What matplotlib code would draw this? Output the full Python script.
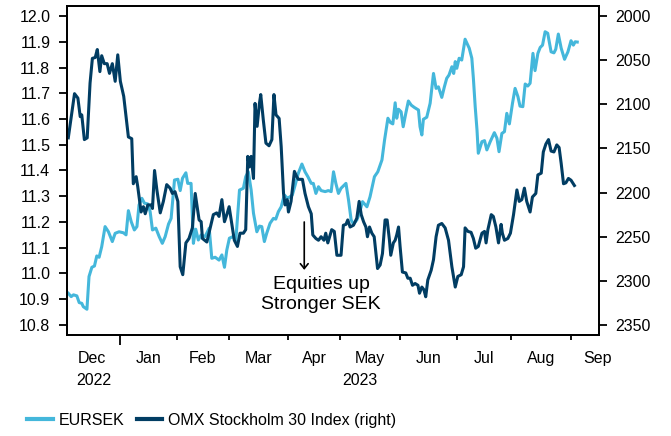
import numpy as np
import matplotlib
matplotlib.use('Agg')
import matplotlib.pyplot as plt
from matplotlib.lines import Line2D

plt.rcParams['font.family'] = ['Liberation Sans', 'DejaVu Sans']

# x values: trading days counted from 1 Dec 2022
eursek_day = [2.0, 3.1, 4.0, 5.3, 6.2, 7.2, 7.8, 9.2, 10.0, 11.1, 12.1, 13.0, 13.9, 14.9, 16.2,
              17.5, 19.0, 20.1, 21.6, 23.3, 24.3, 25.2, 26.3, 27.5, 28.5, 29.3, 30.4, 31.4, 32.7,
              33.6, 34.5, 35.8, 37.1, 38.3, 39.4, 40.7, 41.7, 43.0, 44.3, 45.2, 46.1, 47.4, 48.1,
              49.4, 50.3, 51.2, 52.2, 53.3, 54.8, 56.4, 57.4, 58.7, 60.2, 61.3, 62.3, 63.2, 64.2,
              65.5, 66.7, 68.1, 69.6, 70.5, 71.5, 72.6, 73.5, 74.8, 75.8, 76.7, 77.7, 78.6, 79.9,
              81.2, 82.1, 83.1, 84.2, 85.4, 86.6, 87.6, 88.5, 89.6, 90.8, 92.2, 93.4, 94.5, 95.8,
              96.6, 97.6, 98.6, 99.6, 101.2, 102.4, 103.5, 104.4, 105.3, 106.3, 107.3, 109.2, 110.2,
              111.2, 112.1, 113.4, 114.4, 115.6, 117.3, 118.5, 120.2, 121.5, 123.1, 124.1, 125.4,
              126.4, 127.3, 128.2, 128.8, 129.5, 130.5, 131.3, 132.3, 133.3, 134.4, 135.6, 137.2,
              137.8, 138.5, 139.1, 140.4, 141.7, 143.0, 144.0, 144.9, 146.2, 147.2, 148.1, 149.0,
              150.1, 150.8, 151.4, 152.0, 152.9, 153.9, 155.2, 156.8, 157.8, 158.4, 159.1, 159.8,
              160.3, 161.7, 162.7, 163.6, 164.9, 166.5, 167.5, 168.3, 169.4, 170.4, 171.3, 172.3,
              173.5, 174.5, 175.6, 176.4, 177.5, 178.4, 179.4, 180.3, 181.4, 182.2, 183.3, 184.2,
              185.1, 186.1, 187.1, 188.4, 189.5, 190.2, 191.2, 192.3, 193.6, 194.9, 196.1, 197.0,
              197.7, 198.5]
eursek = [10.923, 10.910, 10.917, 10.913, 10.887, 10.884, 10.871, 10.861, 10.988, 11.024, 11.029,
          11.068, 11.063, 11.104, 11.182, 11.162, 11.124, 11.156, 11.162, 11.158, 11.150, 11.244,
          11.201, 11.169, 11.182, 11.266, 11.292, 11.273, 11.270, 11.240, 11.169, 11.176, 11.143,
          11.117, 11.143, 11.192, 11.214, 11.363, 11.366, 11.322, 11.370, 11.391, 11.350, 11.350,
          11.117, 11.172, 11.130, 11.150, 11.143, 11.176, 11.059, 11.063, 11.052, 11.072, 11.024,
          11.091, 11.137, 11.143, 11.130, 11.324, 11.331, 11.376, 11.395, 11.324, 11.234, 11.162,
          11.184, 11.182, 11.124, 11.156, 11.195, 11.214, 11.211, 11.240, 11.259, 11.305, 11.292,
          11.298, 11.305, 11.344, 11.389, 11.425, 11.395, 11.376, 11.350, 11.350, 11.311, 11.337,
          11.322, 11.318, 11.322, 11.318, 11.395, 11.350, 11.311, 11.331, 11.350, 11.285, 11.208,
          11.192, 11.208, 11.234, 11.279, 11.259, 11.298, 11.376, 11.395, 11.441, 11.518, 11.603,
          11.586, 11.581, 11.663, 11.603, 11.638, 11.628, 11.570, 11.622, 11.670, 11.654, 11.645,
          11.635, 11.570, 11.538, 11.599, 11.607, 11.661, 11.777, 11.719, 11.725, 11.684, 11.725,
          11.758, 11.771, 11.803, 11.777, 11.823, 11.797, 11.836, 11.829, 11.910, 11.875, 11.836,
          11.758, 11.648, 11.557, 11.467, 11.512, 11.516, 11.480, 11.512, 11.547, 11.525, 11.473,
          11.544, 11.551, 11.622, 11.581, 11.661, 11.719, 11.687, 11.650, 11.648, 11.736, 11.728,
          11.739, 11.855, 11.788, 11.855, 11.878, 11.887, 11.939, 11.933, 11.861, 11.857, 11.871,
          11.930, 11.875, 11.832, 11.861, 11.904, 11.887, 11.900, 11.899]

omx_day = [2.0, 4.4, 5.7, 6.6, 7.2, 8.2, 9.3, 10.4, 11.3, 12.4, 13.2, 14.2, 14.9, 15.9, 17.0, 17.9,
           19.0, 20.1, 21.1, 22.1, 23.4, 25.2, 26.5, 27.1, 28.2, 28.8, 30.1, 31.0, 31.7, 32.7, 34.0,
           34.5, 35.3, 36.2, 37.5, 38.7, 40.0, 41.3, 42.2, 43.2, 44.3, 45.2, 46.2, 47.4, 48.6, 49.9,
           51.0, 52.5, 53.3, 53.8, 55.5, 56.8, 58.0, 59.3, 60.2, 61.3, 62.3, 63.2, 64.1, 65.1, 66.1,
           67.3, 68.3, 69.6, 70.5, 71.3, 71.9, 72.6, 73.5, 74.1, 74.9, 75.8, 76.3, 77.3, 78.3, 79.5,
           80.6, 81.4, 82.2, 83.4, 84.2, 85.1, 85.7, 86.5, 87.0, 88.0, 89.3, 90.2, 90.8, 92.4, 93.4,
           94.7, 95.8, 96.4, 97.6, 98.6, 99.6, 100.7, 101.4, 102.2, 103.7, 104.7, 105.7, 107.3,
           108.2, 109.2, 109.9, 110.8, 112.1, 113.4, 114.3, 115.1, 116.0, 116.9, 117.5, 118.3,
           119.2, 120.1, 121.4, 122.4, 123.3, 124.3, 125.1, 126.0, 126.5, 127.5, 128.2, 128.8,
           129.5, 130.1, 131.0, 132.3, 133.1, 134.0, 134.9, 135.9, 137.0, 137.6, 138.5, 139.3,
           140.0, 140.8, 142.1, 143.0, 144.0, 144.9, 146.2, 147.5, 148.8, 150.1, 151.4, 152.4,
           153.7, 154.6, 155.2, 156.3, 157.5, 158.4, 159.3, 160.3, 161.7, 162.7, 163.3, 164.0,
           165.3, 166.1, 167.1, 168.1, 169.1, 169.6, 170.4, 171.7, 172.7, 173.9, 175.2, 176.1,
           177.1, 178.1, 179.0, 180.3, 181.2, 182.5, 183.3, 184.6, 185.4, 186.4, 187.4, 188.4,
           189.5, 190.6, 191.5, 192.3, 193.2, 194.1, 195.1, 196.1, 197.4]
omx = [2138, 2088, 2093, 2114, 2112, 2140, 2138, 2076, 2048, 2047, 2038, 2063, 2045, 2054, 2054,
       2065, 2054, 2074, 2044, 2074, 2091, 2137, 2139, 2190, 2182, 2193, 2222, 2216, 2224, 2214,
       2214, 2218, 2175, 2197, 2223, 2210, 2191, 2195, 2201, 2199, 2210, 2284, 2293, 2257, 2252,
       2240, 2201, 2231, 2233, 2252, 2256, 2240, 2225, 2223, 2227, 2208, 2233, 2225, 2216, 2235,
       2254, 2261, 2246, 2246, 2242, 2159, 2171, 2159, 2184, 2099, 2125, 2099, 2089, 2118, 2144,
       2147, 2140, 2089, 2112, 2116, 2148, 2201, 2214, 2208, 2222, 2210, 2176, 2182, 2185, 2185,
       2201, 2216, 2224, 2248, 2252, 2254, 2250, 2254, 2246, 2257, 2242, 2244, 2271, 2271, 2237,
       2236, 2231, 2239, 2237, 2229, 2210, 2225, 2233, 2239, 2250, 2239, 2246, 2250, 2286, 2282,
       2269, 2231, 2231, 2254, 2271, 2257, 2254, 2248, 2239, 2261, 2290, 2291, 2297, 2297, 2305,
       2303, 2305, 2314, 2307, 2310, 2318, 2299, 2288, 2276, 2250, 2237, 2235, 2240, 2254, 2284,
       2307, 2295, 2293, 2284, 2240, 2244, 2245, 2252, 2263, 2261, 2246, 2244, 2257, 2242, 2225,
       2227, 2239, 2257, 2236, 2246, 2254, 2252, 2246, 2225, 2197, 2210, 2208, 2195, 2210, 2222,
       2205, 2201, 2180, 2178, 2154, 2145, 2140, 2153, 2154, 2146, 2149, 2167, 2190, 2189, 2184,
       2186, 2192]

months = ['Dec', 'Jan', 'Feb', 'Mar', 'Apr', 'May', 'Jun', 'Jul', 'Aug', 'Sep']
month_starts = ['2022-12-01', '2023-01-01', '2023-02-01', '2023-03-01', '2023-04-01',
                '2023-05-01', '2023-06-01', '2023-07-01', '2023-08-01', '2023-09-01',
                '2023-10-01']
years = ['2022', '2023']
year_starts = ['2022-12-01', '2023-01-01', '2024-01-01']

series_names = ['EURSEK', 'OMX Stockholm 30 Index (right)']
light = '#44B7DB'
dark = '#013D63'

origin = '2022-12-01'
ms = np.array([np.busday_count(origin, d) for d in month_starts])
ys = np.array([np.busday_count(origin, d) for d in year_starts])
xlim = (1.5, 206.9)

fig = plt.figure(figsize=(6.71, 4.36), dpi=100)
ax = fig.add_axes([67/671, 1-335/436, (599-67)/671, (335-6)/436])
ax2 = ax.twinx()

ax.plot(eursek_day, eursek, color=light, lw=2.2, solid_joinstyle='round')
ax2.plot(omx_day, omx, color=dark, lw=2.2, solid_joinstyle='round')

ax.set_xlim(*xlim)
ax.set_ylim(10.761, 12.039)
ax.set_yticks(np.round(np.arange(10.8, 12.01, 0.1), 1))
ax.set_yticklabels([f'{v:.1f}' for v in np.arange(10.8, 12.01, 0.1)])
ax2.set_ylim(2361.3, 1988.7)
ax2.set_yticks(np.arange(2000, 2351, 50))

for a in (ax, ax2):
    for s in a.spines.values():
        s.set_linewidth(1.3)
        s.set_color('black')

ax.tick_params(axis='y', which='major', length=6, width=1.3, pad=6, labelsize=11.5)
ax2.tick_params(axis='y', which='major', length=6, width=1.3, pad=6, labelsize=11.5)

# x ticks: month boundaries, year boundary longer
inner_months = [m for m in ms[1:] if xlim[0] < m < xlim[1]]
year_b = [y for y in ys if xlim[0] < y < xlim[1]]
ax.set_xticks([m for m in inner_months if m not in year_b])
ax.set_xticks(year_b, minor=True)
ax.set_xticklabels([])
ax.set_xticklabels([], minor=True)
ax.tick_params(axis='x', which='major', length=3.5, width=1.3)
ax.tick_params(axis='x', which='minor', length=7, width=1.3)

for i, name in enumerate(months):
    mid = (ms[i] + ms[i+1]) / 2
    ax.annotate(name, xy=(mid, 0), xycoords=('data', 'axes fraction'),
                xytext=(0, -16.6), textcoords='offset points', ha='center', va='center',
                fontsize=11.5, annotation_clip=False)
for i, name in enumerate(years):
    lo = max(ys[i], xlim[0])
    hi = min(ys[i+1], xlim[1])
    ax.annotate(name, xy=((lo+hi)/2, 0), xycoords=('data', 'axes fraction'),
                xytext=(0, -33), textcoords='offset points', ha='center', va='center',
                fontsize=11.5, annotation_clip=False)

# annotation
ax.annotate('', xy=(93.1, 11.014), xytext=(93.1, 11.2),
            arrowprops=dict(arrowstyle='->,head_length=0.35,head_width=0.28',
                            lw=1.2, color='black', shrinkA=0, shrinkB=0))
ax.text(99.6, 10.918, 'Equities up\nStronger SEK', ha='center', va='center',
        fontsize=14, linespacing=1.2)

handles = [Line2D([], [], color=light, lw=3), Line2D([], [], color=dark, lw=3)]
fig.legend(handles, series_names, loc='center left', bbox_to_anchor=(0.031, 16/436),
           ncol=2, frameon=False, fontsize=11.5, handlelength=1.6, handletextpad=0.35,
           columnspacing=0.8, borderaxespad=0)

fig.savefig('out.png', dpi=100)
